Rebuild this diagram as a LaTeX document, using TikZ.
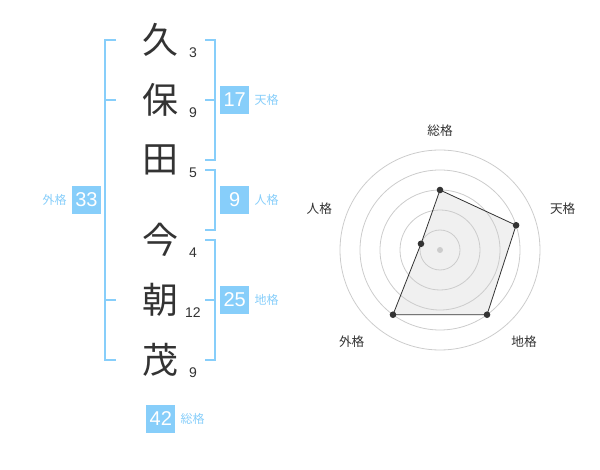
\documentclass[tikz,border=0pt]{standalone}
\usepackage{fontspec}
\setmainfont{Liberation Sans}
\newfontfamily\jp{Noto Sans CJK JP}
\definecolor{kaku}{HTML}{87CEFA}
\definecolor{ink}{HTML}{333333}
\definecolor{ring}{HTML}{CCCCCC}
\definecolor{area}{HTML}{F0F0F0}

\begin{document}
\begin{tikzpicture}[x=0.75pt, y=-0.75pt,
    kanji/.style={text=ink, inner sep=0, font=\jp\fontsize{27}{27}\selectfont},
    stroke/.style={text=ink, inner sep=0, font=\fontsize{10.5}{10.5}\selectfont},
    box/.style={fill=kaku, text=white, inner sep=0, minimum size=21.5pt, font=\fontsize{15}{15}\selectfont},
    kakutext/.style={text=kaku, inner sep=0, font=\jp\fontsize{9}{9}\selectfont},
    radartext/.style={text=ink, inner sep=0, font=\jp\fontsize{9.5}{9.5}\selectfont}]
    \useasboundingbox (0,0) rectangle (600,470);

    \node at (160,  40) (k1) [kanji] {久};
    \node at (160, 100) (k2) [kanji] {保};
    \node at (160, 160) (k3) [kanji] {田};
    \node at (160, 240) (k4) [kanji] {今};
    \node at (160, 300) (k5) [kanji] {朝};
    \node at (160, 360) (k6) [kanji] {茂};

    \node at (193,  53) (s1) [stroke] {3};
    \node at (193, 113) (s2) [stroke] {9};
    \node at (193, 173) (s3) [stroke] {5};
    \node at (193, 253) (s4) [stroke] {4};
    \node at (193, 313) (s5) [stroke] {12};
    \node at (193, 373) (s6) [stroke] {9};

    % brackets
    \draw[kaku, line width=1.5pt] (205,40) -- (215,40) -- (215,160) -- (205,160);
    \draw[kaku, line width=1.5pt] (205,100) -- (215,100);
    \draw[kaku, line width=1.5pt] (205,170) -- (215,170) -- (215,230) -- (205,230);
    \draw[kaku, line width=1.5pt] (205,240) -- (215,240) -- (215,360) -- (205,360);
    \draw[kaku, line width=1.5pt] (205,300) -- (215,300);
    \draw[kaku, line width=1.5pt] (116,40) -- (105,40) -- (105,360) -- (116,360);
    \draw[kaku, line width=1.5pt] (105,100) -- (116,100);
    \draw[kaku, line width=1.5pt] (105,300) -- (116,300);

    \node at (234.7, 100) (ten) [box] {17};
    \node at (234.7, 200) (jin) [box] {9};
    \node at (234.7, 300) (chi) [box] {25};
    \node at (86.5, 200) (gai) [box] {33};
    \node at (160.8, 419) (sou) [box] {42};

    \node at ([xshift=3.75pt]ten.east) [kakutext, anchor=west] {天格};
    \node at ([xshift=3.75pt]jin.east) [kakutext, anchor=west] {人格};
    \node at ([xshift=3.75pt]chi.east) [kakutext, anchor=west] {地格};
    \node at ([xshift=-3.75pt]gai.west) [kakutext, anchor=east] {外格};
    \node at ([xshift=3.75pt]sou.east) [kakutext, anchor=west] {総格};

    % radar
    \begin{scope}[shift={(440,250)}]
        \foreach \ang/\val/\nm in {-90/3/sou, -18/4/ten, 54/4/chi, 126/4/gai, 198/1/jin}
            \coordinate (p\nm) at (\ang:\val*20);
        \fill[area] (psou) -- (pten) -- (pchi) -- (pgai) -- (pjin) -- cycle;
        \foreach \r in {20,40,...,100}
            \draw[ring, line width=0.6pt] (0,0) circle (\r);
        \fill[ring] (0,0) circle (3);
        \draw[ink, line width=0.6pt] (psou) -- (pten) -- (pchi) -- (pgai) -- (pjin) -- cycle;
        \foreach \nm in {sou,ten,chi,gai,jin}
            \fill[ink] (p\nm) circle (3.3);
    \end{scope}

    \node at (440, 130.7) (lsou) [radartext] {総格};
    \node at (562.7, 208.3) (lten) [radartext] {天格};
    \node at (524, 341.7) (lchi) [radartext] {地格};
    \node at (351.7, 341.7) (lgai) [radartext] {外格};
    \node at (319.3, 208.3) (ljin) [radartext] {人格};
\end{tikzpicture}
\end{document}
